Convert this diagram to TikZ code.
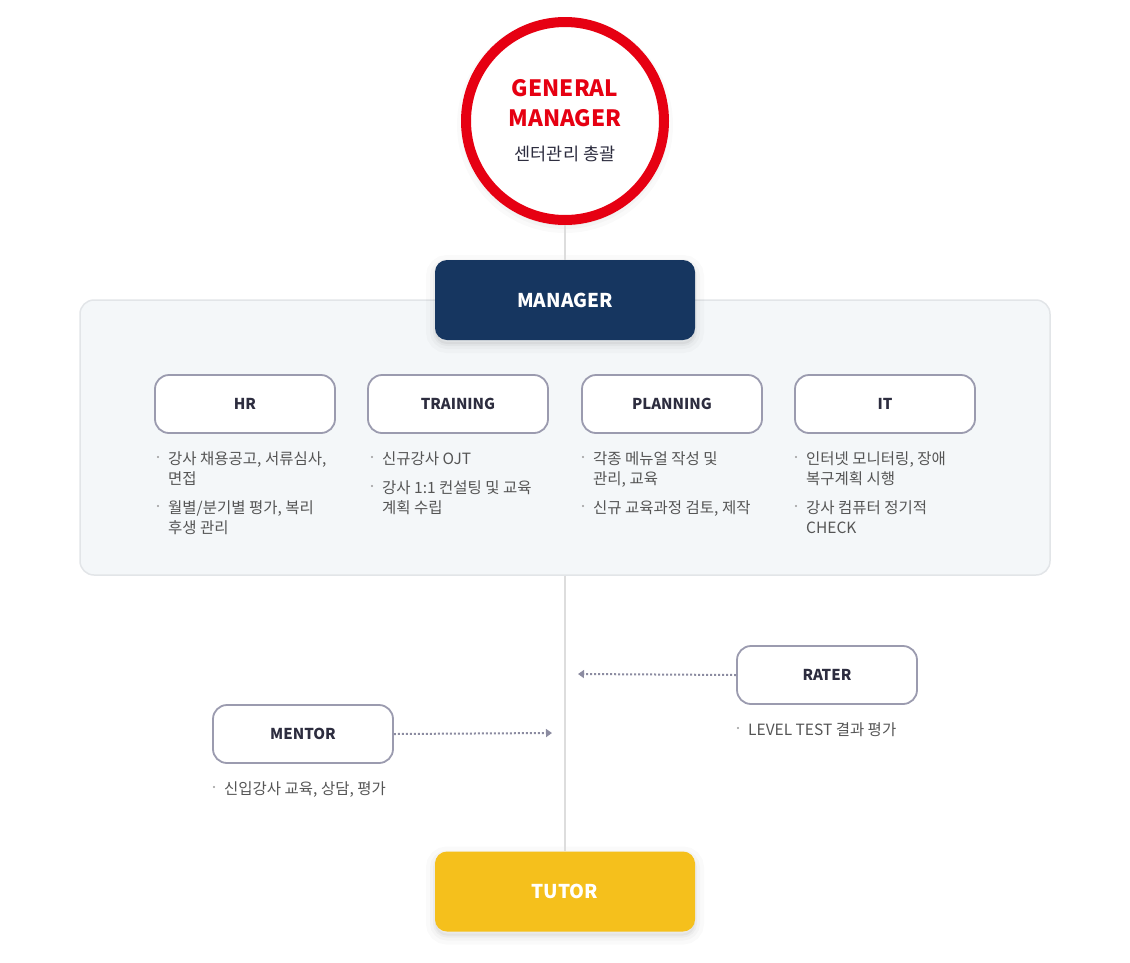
\documentclass[tikz,border=0pt]{standalone}
\usepackage{fontspec}
\setmainfont{Noto Sans CJK KR}
\usetikzlibrary{arrows.meta}
\definecolor{gmred}{HTML}{E60012}
\definecolor{mgrblue}{HTML}{163660}
\definecolor{tutoryellow}{HTML}{F5C01C}
\definecolor{panelbg}{HTML}{F4F7F9}
\definecolor{panelline}{HTML}{E2E5E8}
\definecolor{deptline}{HTML}{9B9BAF}
\definecolor{depttext}{HTML}{2D2D3F}
\definecolor{bultext}{HTML}{555555}
\definecolor{dotgray}{HTML}{9A9A9A}
\definecolor{linkgray}{HTML}{DDDDDD}
\definecolor{arrowgray}{HTML}{8C8CA1}
\tikzset{
  softshadow/.style={
    preaction={draw=black, draw opacity=0.02, fill opacity=0, line width=18pt, transform canvas={yshift=-4pt}},
    preaction={draw=black, draw opacity=0.025, fill opacity=0, line width=10pt, transform canvas={yshift=-4pt}},
    preaction={draw=black, draw opacity=0.03, fill=black, fill opacity=0.04, line width=4pt, transform canvas={yshift=-4pt}}},
  headbox/.style={rectangle, rounded corners=12, minimum width=260, minimum height=80, text=white, font=\fontsize{19}{22}\selectfont\bfseries, softshadow},
  deptbox/.style={rectangle, rounded corners=14, minimum width=180, minimum height=58, draw=deptline, line width=1.8pt, fill=white, text=depttext, font=\fontsize{15}{18}\selectfont\bfseries},
  bullettext/.style={anchor=north west, inner sep=0pt, align=left, text=bultext, font=\fontsize{15.5}{20}\selectfont},
  link/.style={draw=linkgray, line width=1.5pt},
  dotarrow/.style={draw=arrowgray, line width=2pt, dash pattern=on 2pt off 2pt, -{Triangle[length=6pt,width=8pt]}}
}
\begin{document}
\begin{tikzpicture}[x=1pt, y=1pt]
  \useasboundingbox (0,0) rectangle (1130,-962);
  % panel behind the departments
  \node[rectangle, rounded corners=14, draw=panelline, line width=1.5pt, fill=panelbg, minimum width=970, minimum height=275] (panel) at (565,-437.5) {};
  \node[headbox, fill=tutoryellow] (tutor) at (565,-891.5) {TUTOR};
  \draw[link] (panel.south) -- (tutor.north);
  \node[circle, minimum size=198, line width=10pt, draw=gmred, fill=white, softshadow, align=center, inner sep=0pt, text=gmred, font=\fontsize{22.5}{29.5}\selectfont\bfseries] (gm) at (565,-121)
    {GENERAL\\MANAGER\\[5pt]\fontsize{17.5}{20}\selectfont\mdseries\color{depttext}센터관리 총괄};
  \node[headbox, fill=mgrblue] (mgr) at (565,-300) {MANAGER};
  \draw[link] (gm.south) -- (mgr.north);
  % departments
  \node[deptbox] (hr) at (245,-404) {HR};
  \node[deptbox] (training) at (458,-404) {TRAINING};
  \node[deptbox] (planning) at (672,-404) {PLANNING};
  \node[deptbox] (it) at (885,-404) {IT};
  \node[deptbox] (rater) at (827,-675) {RATER};
  \node[deptbox] (mentor) at (303,-734) {MENTOR};
  \coordinate (raterend) at (578,-674);
  \coordinate (mentorend) at (552,-733);
  \draw[dotarrow] (rater.west) -- (raterend);
  \draw[dotarrow] (mentor.east) -- (mentorend);
  % duties
  \foreach \n/\x/\y/\t in {
      hra/168/458/{강사 채용공고, 서류심사,\\면접},
      hrb/168/507/{월별/분기별 평가, 복리\\후생 관리},
      tra/382/458/{신규강사 OJT},
      trb/382/487/{강사 1:1 컨설팅 및 교육\\계획 수립},
      pla/593/458/{각종 메뉴얼 작성 및\\관리, 교육},
      plb/593/507/{신규 교육과정 검토, 제작},
      ita/806/458/{인터넷 모니터링, 장애\\복구계획 시행},
      itb/806/507/{강사 컴퓨터 정기적\\CHECK},
      ra/748/729/{LEVEL TEST 결과 평가},
      mea/224/788/{신입강사 교육, 상담, 평가}}{
    \fill[dotgray] (\x-10,-\y+1) circle (1.2pt);
    \node[bullettext] (\n) at (\x,-\y+7) {\t};
  }
\end{tikzpicture}
\end{document}
